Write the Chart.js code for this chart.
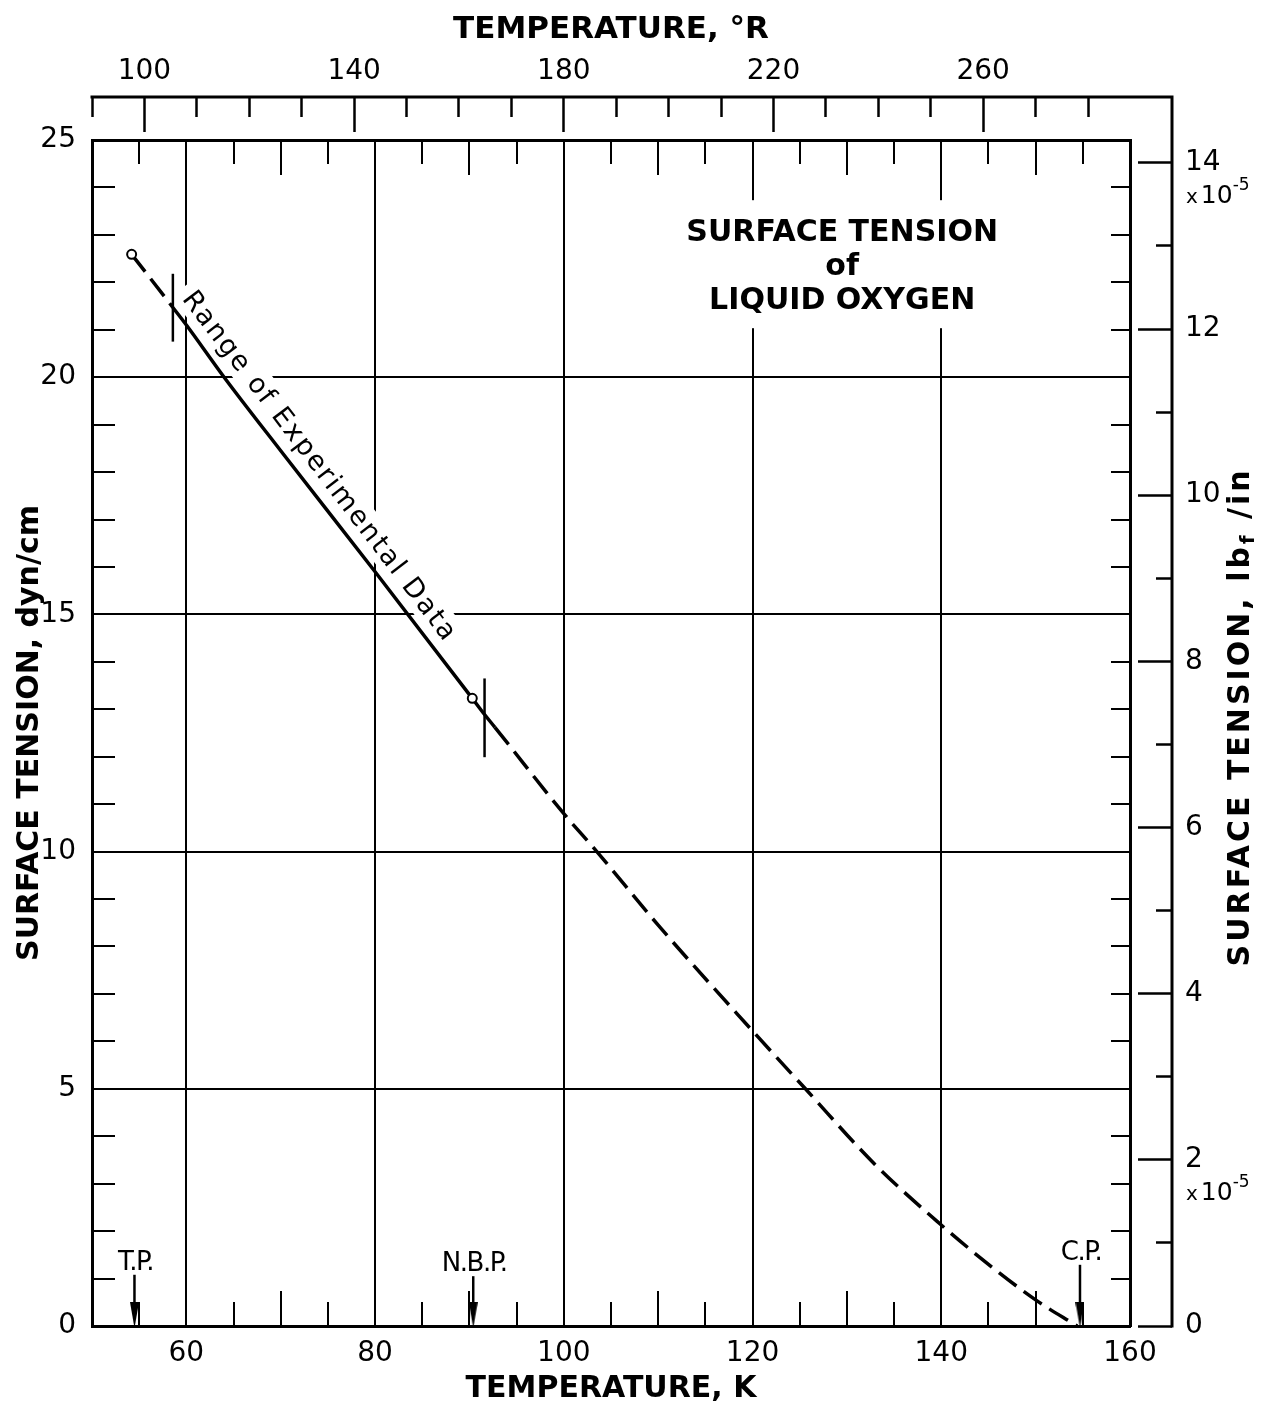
<!DOCTYPE html>
<html>
<head>
<meta charset="utf-8">
<script src="https://cdn.jsdelivr.net/npm/chart.js@4/dist/chart.umd.min.js"></script>
<style>
  html, body { margin: 0; padding: 0; background: #fff; }
  canvas { display: block; }
</style>
</head>
<body>
<canvas id="stChart" width="1267" height="1410"></canvas>
<script>
// surface tension of liquid oxygen (K, dyn/cm)
const curveT = [54.2, 58.57, 60, 64, 70, 80, 90.3, 91.6, 92.7, 100, 103.5, 110, 120, 125.6, 133, 140, 145, 150, 154.4];
const curveS = [22.59, 21.47, 21.10, 20.0, 18.45, 15.90, 13.23, 12.89, 12.62, 10.80, 10.0, 8.45, 6.22, 5.0, 3.40, 2.13, 1.30, 0.55, 0];
const solidFrom = 58.57, solidTo = 92.7;   // solid part of the curve

// open circles at T.P. and N.B.P.
const markT = [54.2, 90.3];
const markS = [22.59, 13.23];

// short bars marking the range of experimental data
const barT = [58.57, 91.6];
const barLo = [20.75, 11.99];
const barHi = [22.18, 13.65];

// arrows on the temperature axis
const arrowT = [54.5, 90.4, 154.7];
const arrowTop = [1.08, 1.05, 1.29];
const arrowText = ['T.P.', 'N.B.P.', 'C.P.'];
const arrowHeadS = 0.23;

// tick labels
const kLabels = [60, 80, 100, 120, 140, 160];
const rLabels = [100, 140, 180, 220, 260];
const dynLabels = [0, 5, 10, 15, 20, 25];
const lbfLabels = [0, 2, 4, 6, 8, 10, 12, 14];
const lbfPerDyn = 0.57101;       // 1 dyn/cm = 0.571e-5 lbf/in

const blk = '#000';
const DASH = [22, 9];
Chart.defaults.font.family = "'DejaVu Sans', sans-serif";
Chart.defaults.color = blk;

// narrow arrow head used as point style
const head = document.createElement('canvas');
head.width = 9; head.height = 26;
(function () {
  const c = head.getContext('2d');
  c.fillStyle = blk;
  c.beginPath(); c.moveTo(0, 0); c.lineTo(9, 0); c.lineTo(4.5, 26); c.closePath(); c.fill();
})();

function rangeGeom(chart) {
  const {x, y} = chart.scales;
  const i0 = curveT.indexOf(barT[0]), i1 = curveT.indexOf(barT[1]);
  const x0 = x.getPixelForValue(barT[0]), y0 = y.getPixelForValue(curveS[i0]);
  const x1 = x.getPixelForValue(barT[1]), y1 = y.getPixelForValue(curveS[i1]);
  const a = Math.atan2(y1 - y0, x1 - x0);
  const f = 0.42, off = 19;
  return {a, x: x0 + f * (x1 - x0) + Math.sin(a) * off, y: y0 + f * (y1 - y0) - Math.cos(a) * off};
}

const titleAt = [129.5, 22.34];
const rightTitleAt = 12.84;
const RANGE_FONT = "27px 'DejaVu Sans'";

const decor = {
  id: 'decor',
  beforeDatasetsDraw(chart) {
    const {ctx, scales: {x, y}} = chart;
    ctx.save();
    ctx.fillStyle = '#fff';
    const cx = x.getPixelForValue(titleAt[0]), cy = y.getPixelForValue(titleAt[1]);
    ctx.fillRect(cx - 166, cy - 66, 332, 128);
    const g = rangeGeom(chart);
    ctx.font = RANGE_FONT;
    ctx.letterSpacing = '2px';
    const w = ctx.measureText('Range of Experimental Data').width;
    ctx.translate(g.x, g.y); ctx.rotate(g.a);
    ctx.fillRect(-w / 2 - 8, -18, w + 16, 32);
    ctx.restore();
  },
  afterDatasetsDraw(chart) {
    const {ctx, scales: {x, y, x2, y2}} = chart;
    ctx.save();
    ctx.fillStyle = blk;
    ctx.strokeStyle = blk;

    // title block
    const cx = x.getPixelForValue(titleAt[0]), cy = y.getPixelForValue(titleAt[1]);
    ctx.font = "bold 30px 'DejaVu Sans'";
    ctx.textAlign = 'center'; ctx.textBaseline = 'middle';
    ['SURFACE TENSION', 'of', 'LIQUID OXYGEN'].forEach((s, i) => ctx.fillText(s, cx, cy + 1 + (i - 1) * 34));

    // label along the curve
    const g = rangeGeom(chart);
    ctx.save();
    ctx.font = RANGE_FONT;
    ctx.letterSpacing = '2px';
    ctx.translate(g.x, g.y); ctx.rotate(g.a);
    ctx.fillText('Range of Experimental Data', 0, 0);
    ctx.restore();

    // arrow labels
    ctx.save();
    ctx.font = "26px 'DejaVu Sans'";
    ctx.letterSpacing = '-1.5px';
    ctx.textBaseline = 'bottom';
    arrowT.forEach((t, i) => ctx.fillText(arrowText[i], x.getPixelForValue(t) + 1, y.getPixelForValue(arrowTop[i]) + 1));
    ctx.restore();

    // x 10^-5 under the 14 and 2 labels
    const lx = y2.left + 42 + 14;
    ctx.textAlign = 'left'; ctx.textBaseline = 'alphabetic';
    [14, 2].forEach(v => {
      const base = y2.getPixelForValue(v) + 40;
      ctx.font = "20px 'DejaVu Sans'";
      ctx.fillText('x', lx, base);
      let px = lx + ctx.measureText('x').width + 3;
      ctx.font = "25px 'DejaVu Sans'";
      ctx.fillText('10', px, base);
      px += ctx.measureText('10').width;
      ctx.font = "17px 'DejaVu Sans'";
      ctx.fillText('-5', px, base - 13);
    });

    // right axis title, reading bottom to top, with subscript f
    ctx.save();
    ctx.translate(chart.width - 26, y.getPixelForValue(rightTitleAt));
    ctx.rotate(-Math.PI / 2);
    ctx.letterSpacing = '3px';
    ctx.textBaseline = 'middle'; ctx.textAlign = 'left';
    const big = "bold 30px 'DejaVu Sans'", small = "bold 20px 'DejaVu Sans'";
    const parts = [['SURFACE TENSION, lb', big, 0], ['f', small, 8], [' /in', big, 0]];
    let tot = 0;
    parts.forEach(p => { ctx.font = p[1]; tot += ctx.measureText(p[0]).width; });
    let px = -tot / 2;
    parts.forEach(p => { ctx.font = p[1]; ctx.fillText(p[0], px, p[2]); px += ctx.measureText(p[0]).width; });
    ctx.restore();

    // outer frame: deg R axis line and lbf/in axis line
    const topY = x2.bottom - 43;
    const rightX = y2.left + 42;
    ctx.lineWidth = 3;
    ctx.lineCap = 'square';
    ctx.beginPath();
    ctx.moveTo(x2.getPixelForValue(x2.min), topY);
    ctx.lineTo(rightX, topY);
    ctx.lineTo(rightX, y2.getPixelForValue(0));
    ctx.stroke();
    ctx.restore();
  }
};

function innerDash(ctx, major, len, span) {
  if (ctx.type !== 'tick') return [];
  const v = Math.round(ctx.tick.value);
  if (major(v)) return [];
  const a = ctx.chart.chartArea;
  const size = span === 'h' ? a.bottom - a.top : a.right - a.left;
  const l = len(v);
  return [l, size - 2 * l, l, 3000];
}

new Chart(document.getElementById('stChart').getContext('2d'), {
  type: 'line',
  data: {
    datasets: [
      {
        label: 'points',
        data: markT.map((t, i) => ({x: t, y: markS[i]})),
        showLine: false,
        pointRadius: 4.5,
        pointBorderWidth: 2,
        pointBackgroundColor: '#fff',
        pointBorderColor: blk,
        order: 0
      },
      {
        label: 'surface tension',
        data: curveT.map((t, i) => ({x: t, y: curveS[i]})),
        borderColor: blk,
        borderWidth: 3.5,
        pointRadius: 0,
        cubicInterpolationMode: 'monotone',
        segment: {
          borderDash: c => (c.p0.parsed.x < solidFrom || c.p0.parsed.x >= solidTo) ? DASH : undefined
        },
        order: 2
      },
      ...barT.map((t, i) => ({
        label: 'range ' + i,
        data: [{x: t, y: barLo[i]}, {x: t, y: barHi[i]}],
        borderColor: blk,
        borderWidth: 2.5,
        pointRadius: 0,
        order: 1
      })),
      ...arrowT.map((t, i) => ({
        label: arrowText[i],
        data: [{x: t, y: arrowHeadS}, {x: t, y: arrowTop[i]}],
        borderColor: blk,
        borderWidth: 2.5,
        pointStyle: [head, 'circle'],
        pointRadius: [4, 0],
        order: 1
      }))
    ]
  },
  options: {
    responsive: false,
    devicePixelRatio: 1,
    animation: false,
    events: [],
    layout: {padding: 0},
    plugins: {legend: {display: false}, tooltip: {enabled: false}},
    scales: {
      x: {
        type: 'linear', position: 'bottom', min: 50, max: 160,
        afterFit: s => { s.height = 84; },
        ticks: {
          stepSize: 5, autoSkip: false, maxRotation: 0, padding: 11,
          font: {size: 28},
          callback: v => kLabels.includes(Math.round(v)) ? String(v) : ''
        },
        grid: {drawTicks: false, lineWidth: 2, color: blk},
        border: {
          width: 3, color: blk,
          dash: c => innerDash(c, v => v % 20 === 0 || v === 50, v => (v % 10 === 0 ? 35 : 24), 'h')
        },
        title: {display: true, text: 'TEMPERATURE, K', font: {size: 30, weight: 'bold'}, padding: {top: 0, bottom: 3}}
      },
      x2: {
        type: 'linear', position: 'top', min: 90, max: 288,
        afterFit: s => { s.height = 140; },
        ticks: {
          stepSize: 10, autoSkip: false, maxRotation: 0, includeBounds: false, padding: 8,
          font: {size: 28},
          callback: v => rLabels.includes(Math.round(v)) ? String(v) : ''
        },
        grid: {
          drawOnChartArea: false, drawTicks: true, tickLength: 43, tickWidth: 2.5, tickColor: blk,
          tickBorderDash: c => rLabels.includes(Math.round(c.tick.value)) ? [35, 200] : [20, 200]
        },
        border: {width: 3, color: blk},
        title: {display: true, text: 'TEMPERATURE, °R', font: {size: 31, weight: 'bold'}, padding: {top: 11, bottom: 0}}
      },
      y: {
        type: 'linear', position: 'left', min: 0, max: 25,
        afterFit: s => { s.width = 92; },
        ticks: {
          stepSize: 1, autoSkip: false, padding: 16,
          font: {size: 28},
          callback: v => dynLabels.includes(Math.round(v)) ? String(v) : ''
        },
        grid: {drawTicks: false, lineWidth: 2, color: blk},
        border: {
          width: 3, color: blk,
          dash: c => innerDash(c, v => v % 5 === 0, () => 21, 'w')
        },
        title: {display: true, text: 'SURFACE TENSION, dyn/cm', font: {size: 30, weight: 'bold'}, padding: {top: 12, bottom: 0}}
      },
      y2: {
        type: 'linear', position: 'right', min: 0, max: 25 * lbfPerDyn,
        afterFit: s => { s.width = 137; },
        ticks: {
          stepSize: 1, autoSkip: false, includeBounds: false, padding: 13,
          font: {size: 28},
          callback: v => lbfLabels.includes(Math.round(v)) ? String(v) : ''
        },
        grid: {
          drawOnChartArea: false, drawTicks: true, tickLength: 42, tickWidth: 2.5, tickColor: blk,
          tickBorderDash: c => Math.round(c.tick.value) % 2 === 0 ? [0, 6, 36, 200] : [0, 24, 18, 200]
        },
        border: {width: 3, color: blk}
      }
    }
  },
  plugins: [decor]
});
</script>
</body>
</html>
